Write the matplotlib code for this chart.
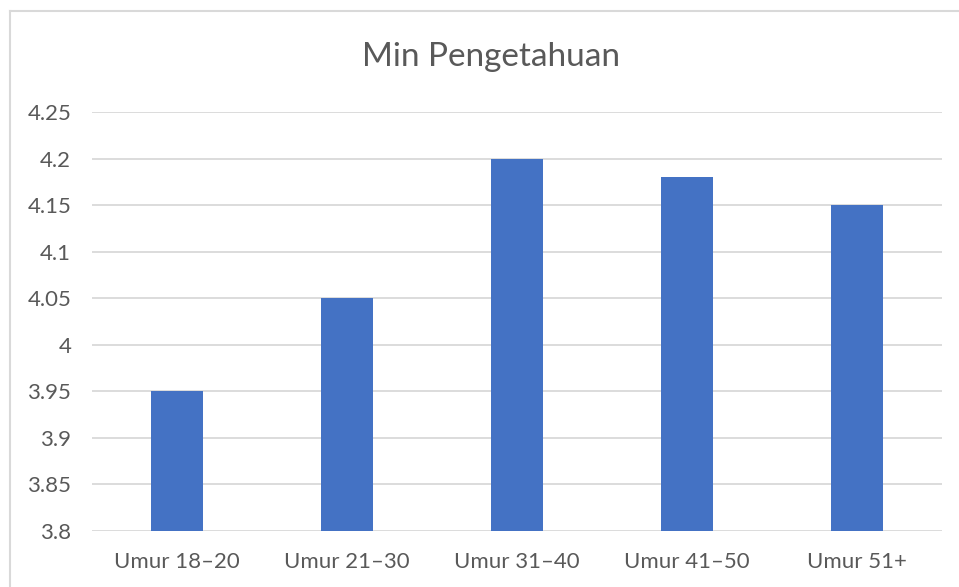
import matplotlib
matplotlib.use("Agg")
import matplotlib.pyplot as plt
from matplotlib.lines import Line2D

categories = ["Umur 18\u201320", "Umur 21\u201330", "Umur 31\u201340", "Umur 41\u201350", "Umur 51+"]
values = [3.95, 4.05, 4.2, 4.18, 4.15]
y_ticks = [3.8, 3.85, 3.9, 3.95, 4.0, 4.05, 4.1, 4.15, 4.2, 4.25]
y_tick_labels = ["3.8", "3.85", "3.9", "3.95", "4", "4.05", "4.1", "4.15", "4.2", "4.25"]

plt.rcParams['font.family'] = ['Lato', 'DejaVu Sans']
text_color = "#595959"

fig = plt.figure(figsize=(9.59, 5.87), dpi=100)
ax = fig.add_axes([92 / 959, 1 - 531 / 587, 850 / 959, 419 / 587])

x = range(len(categories))
ax.bar(x, values, width=0.31, color="#4472C4", zorder=3)

ax.set_xlim(-0.5, len(categories) - 0.5)
ax.set_ylim(3.8, 4.25)
ax.set_yticks(y_ticks)
ax.set_yticklabels(y_tick_labels)
ax.set_xticks(list(x))
ax.set_xticklabels(categories)
ax.grid(axis="y", color="#d9d9d9", linewidth=1.3, zorder=0)
ax.tick_params(axis="both", length=0, labelsize=16, labelcolor=text_color)
ax.tick_params(axis="y", pad=15)
ax.tick_params(axis="x", pad=15)
for s in ax.spines.values():
    s.set_visible(False)

fig.text(491 / 959, 1 - 57 / 587, "Min Pengetahuan", ha="center", va="center",
         fontsize=24, color=text_color)

# chart border (left and top edges visible)
fig.add_artist(Line2D([10 / 959, 10 / 959], [0, 1 - 11 / 587], color="#d9d9d9", linewidth=1.5))
fig.add_artist(Line2D([10 / 959, 1], [1 - 11 / 587, 1 - 11 / 587], color="#d9d9d9", linewidth=1.5))

fig.savefig("out.png", dpi=100)
